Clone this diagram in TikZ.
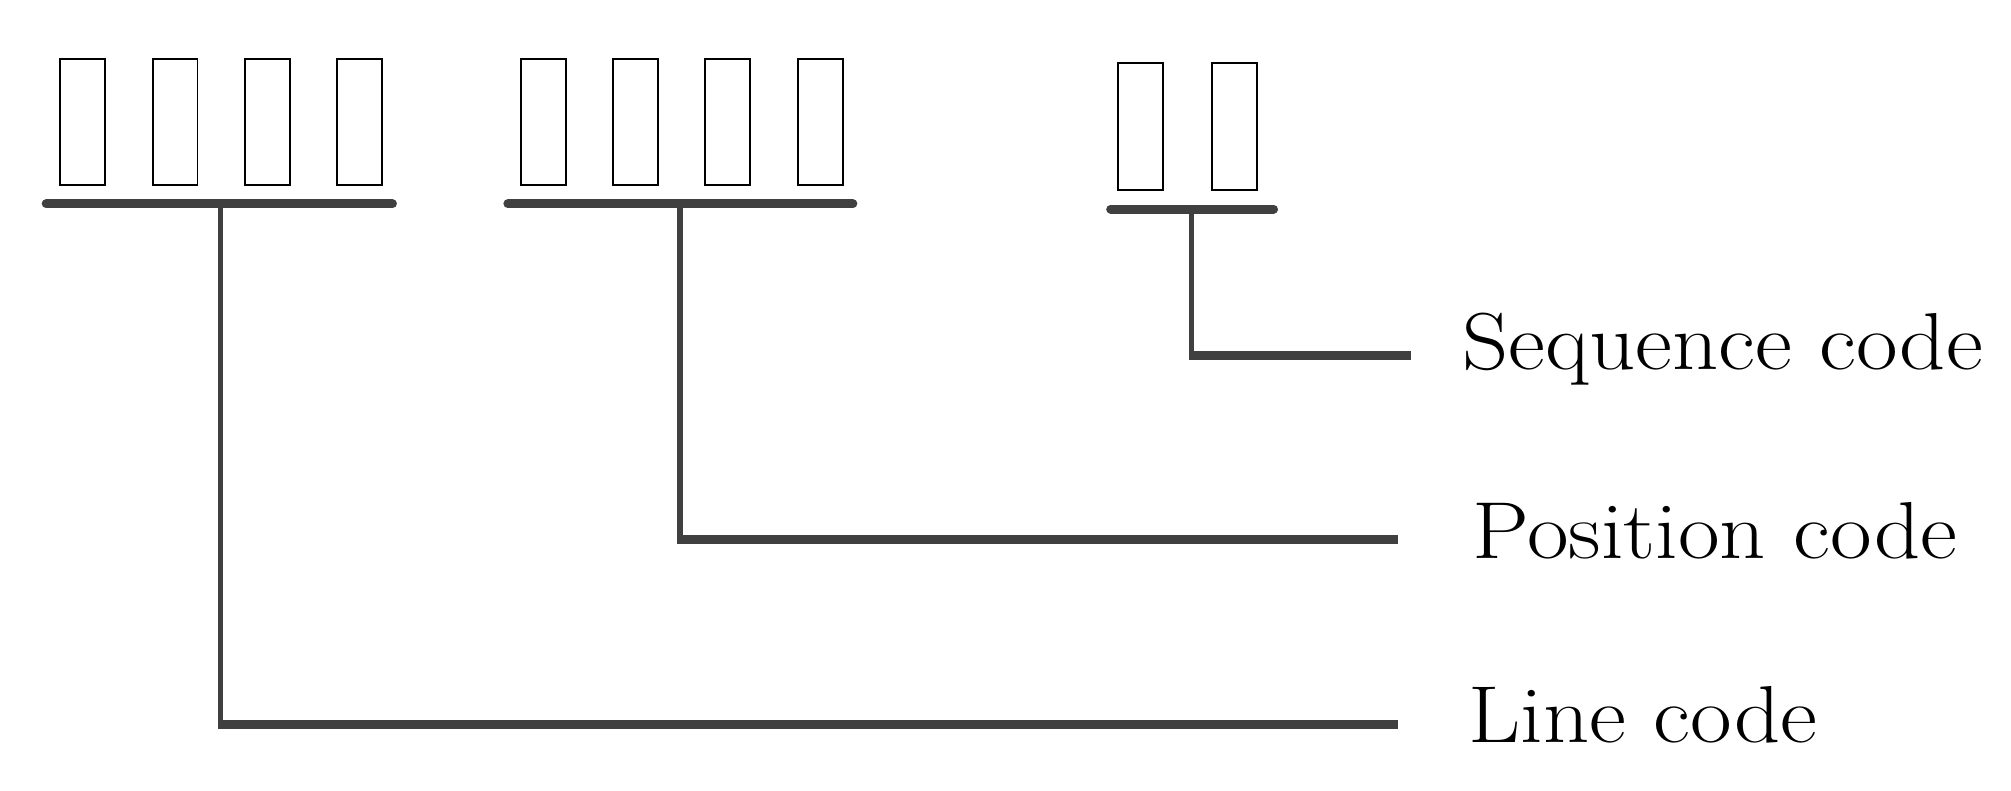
\documentclass[tikz,border=0pt]{standalone}
\begin{document}
\begin{tikzpicture}[x=1pt,y=-1pt,
  cell/.style={draw=black,line width=1.5pt},
  bar/.style={draw=barc,line width=7pt,line cap=round},
  stem/.style={draw=barc,line width=4.5pt},
  lead/.style={draw=barc,line width=7pt},
  lbl/.style={anchor=west,inner sep=0pt,font=\fontsize{63}{63}\selectfont,xscale=1.12}]
\definecolor{barc}{HTML}{404040}
\useasboundingbox (0,0) rectangle (1568,616);
\foreach \x in {47,119,191,263,406,478,550,622} \draw[cell] (\x,46) rectangle ++(35,98);
\foreach \x in {872,945} \draw[cell] (\x,49) rectangle ++(35,99);
\draw[bar] (36,159) -- (306,159);
\draw[bar] (396,159) -- (665,159);
\draw[bar] (866,163) -- (993,163);
\coordinate (a) at (172,159); \coordinate (b) at (530,159); \coordinate (c) at (929,163);
\node[lbl] (seq) at (1140,272) {Sequence code};
\node[lbl] (pos) at (1148,414) {Position code};
\node[lbl] (line) at (1145,557) {Line code};
\draw[stem] (a) -- (172,565);
\draw[lead] (170,565) -- (1090,565);
\draw[stem] (b) -- (530,421);
\draw[lead] (528,421) -- (1090,421);
\draw[stem] (c) -- (929,277);
\draw[lead] (927,277) -- (1100,277);
\end{tikzpicture}
\end{document}
